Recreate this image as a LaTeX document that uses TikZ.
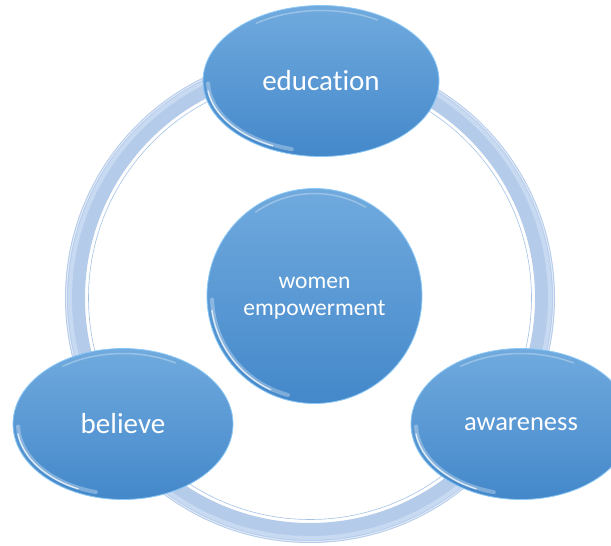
\documentclass[tikz,border=0pt]{standalone}
\usepackage{fontspec}
\setmainfont{Carlito}[RawFeature=-liga]
\usetikzlibrary{shapes.geometric}
\definecolor{topblue}{RGB}{112,170,222}
\definecolor{botblue}{RGB}{68,136,202}
\definecolor{ringblue}{RGB}{180,203,234}
\definecolor{ringlight}{RGB}{200,218,242}
\definecolor{ringline}{RGB}{165,194,230}
\definecolor{edgeblue}{RGB}{140,200,245}
\newcommand\glossarc[3]{%
  \begin{scope}[shift={(#1.center)}]
    \draw[white, opacity=0.3, line width=4pt, line cap=round]
      (178:{#2-5} and {#3-5}) arc[start angle=178, end angle=105, x radius=#2-5, y radius=#3-5];
    \draw[white, opacity=0.75, line width=1.4pt, line cap=round]
      (172:{#2-4} and {#3-4}) arc[start angle=172, end angle=115, x radius=#2-4, y radius=#3-4];
    \draw[white, opacity=0.3, line width=1.5pt, line cap=round]
      (235:{#2-5} and {#3-5}) arc[start angle=235, end angle=300, x radius=#2-5, y radius=#3-5];
  \end{scope}}
\begin{document}
\begin{tikzpicture}[x=1pt, y=-1pt,
  bubble/.style={ellipse, inner sep=0pt, top color=topblue, bottom color=botblue,
    draw=edgeblue, line width=0.8pt, text=white, align=center},
  bigfont/.style={font=\fontsize{29}{34}\selectfont},
  awafont/.style={font=\fontsize{26.5}{31}\selectfont},
  midfont/.style={font=\fontsize{23.5}{27}\selectfont}]
\useasboundingbox (0,0) rectangle (611,546);
\clip (0,0) rectangle (611,546);
\coordinate (ctr) at (310,298);
% ring
\draw[ringline, line width=0.6pt] (ctr) circle[radius=221.5pt];
\draw[ringblue, line width=20pt] (ctr) circle[radius=235pt];
\draw[ringlight, line width=4pt] (ctr) circle[radius=240pt];
\draw[white, opacity=0.6, line width=1pt] (ctr) circle[radius=243.5pt];
% nodes
\node[bubble, bigfont, minimum width=236pt, minimum height=151pt] (edu) at (321,81) {education};
\node[bubble, bigfont, minimum width=220pt, minimum height=151pt] (bel) at (123,424) {believe};
\node[bubble, awafont, minimum width=220pt, minimum height=151pt] (awa) at (521,424) {awareness};
\node[bubble, midfont, minimum width=215pt, minimum height=215pt] (wom) at (314.5,296) {};
\node[text=white, align=center, midfont, inner sep=0pt] (womtxt) at (314.5,298.5) {women\\empowerment};
\glossarc{edu}{118}{75.5}
\glossarc{bel}{110}{75.5}
\glossarc{awa}{110}{75.5}
\glossarc{wom}{107.5}{107.5}
\end{tikzpicture}
\end{document}
